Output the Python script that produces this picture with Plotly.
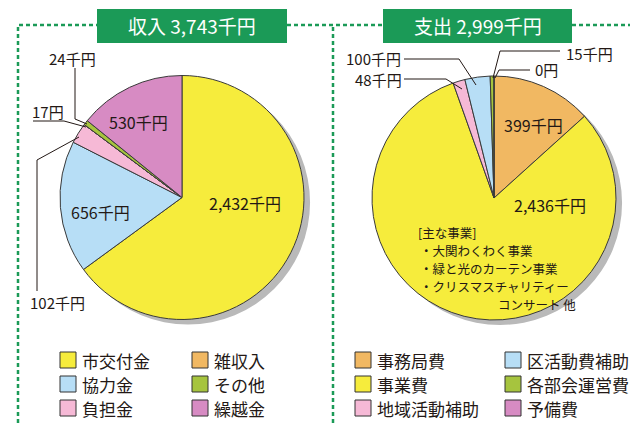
import plotly.graph_objects as go

W, H = 630, 425

# ---- data ----
inc_labels = ["市交付金", "協力金", "負担金", "雑収入", "その他", "繰越金"]
inc_values = [2432, 656, 102, 0.017, 24, 530]          # 千円 (雑収入 = 17円)
inc_text = ["2,432千円", "656千円", "102千円", "17円", "24千円", "530千円"]
inc_total = "収入 3,743千円"

exp_labels = ["事務局費", "事業費", "地域活動補助", "区活動費補助", "各部会運営費", "予備費"]
exp_values = [399, 2436, 48, 100, 15, 0]               # 千円
exp_text = ["399千円", "2,436千円", "48千円", "100千円", "15千円", "0円"]
exp_total = "支出 2,999千円"

colors = ["#f6ec3c", "#b7def6", "#f6b9d6", "#f1b862", "#a6c43e", "#d78bc3"]
exp_colors = ["#f1b862", "#f6ec3c", "#f6b9d6", "#b7def6", "#a6c43e", "#d78bc3"]

main_lines = ["[主な事業]", "・大関わくわく事業", "・緑と光のカーテン事業", "・クリスマスチャリティー"]
main_tail = "コンサート 他"

FONT = "Noto Sans CJK JP"
GREEN = "#1b9a57"
TXT = "#231815"


def px(x):
    return x / W


def py(y):
    return 1 - y / H


def dom(cx, cy, r):
    return dict(x=[px(cx - r), px(cx + r)], y=[py(cy + r), py(cy - r)])


R = 122
LC = (182, 197.5)
RC = (494, 198)

fig = go.Figure()

# shadows
for c in (LC, RC):
    fig.add_trace(go.Pie(values=[1], marker=dict(colors=["#b9b9b9"], line=dict(width=0)),
                         domain=dom(c[0] + 6, c[1] + 5, R), textinfo="none",
                         hoverinfo="skip", showlegend=False, sort=False))

fig.add_trace(go.Pie(labels=inc_labels, values=inc_values, sort=False, direction="clockwise",
                     rotation=0, marker=dict(colors=colors, line=dict(color="#3a3a3a", width=1)),
                     textinfo="none", domain=dom(LC[0], LC[1], R), showlegend=False))
fig.add_trace(go.Pie(labels=exp_labels, values=exp_values, sort=False, direction="clockwise",
                     rotation=0, marker=dict(colors=exp_colors, line=dict(color="#3a3a3a", width=1)),
                     textinfo="none", domain=dom(RC[0], RC[1], R), showlegend=False))

shapes = []
ann = []


def line(pts, color=TXT, width=1, dash=None):
    d = "M " + " L ".join(f"{px(x)},{py(y)}" for x, y in pts)
    ln = dict(color=color, width=width)
    if dash:
        ln["dash"] = dash
    shapes.append(dict(type="path", path=d, xref="paper", yref="paper", line=ln))


def text(x, y, s, size=15, color=TXT, xanchor="center", pad=1):
    ann.append(dict(x=px(x), y=py(y), xref="paper", yref="paper", text=s, showarrow=False,
                    xanchor=xanchor, yanchor="middle", borderpad=pad,
                    font=dict(family=FONT, size=size, color=color)))


# dashed frames
DASH = "4px,3px"
line([(18, 430), (18, 25), (97, 25)], GREEN, 2.5, DASH)
line([(287, 25), (383, 25)], GREEN, 2.5, DASH)
line([(333, 430), (333, 25)], GREEN, 2.5, DASH)
line([(572, 25), (632, 25)], GREEN, 2.5, DASH)

# title boxes
for (x0, x1, s) in [(97, 287, inc_total), (383, 572, exp_total)]:
    shapes.append(dict(type="rect", xref="paper", yref="paper", x0=px(x0), x1=px(x1),
                       y0=py(43), y1=py(9), fillcolor=GREEN, line=dict(width=0)))
    text((x0 + x1) / 2, 26, s, size=19, color="white")

# income labels
text(138, 122, inc_text[5], 16)
text(245, 203, inc_text[0], 16)
text(100, 212, inc_text[1], 16)
text(72, 59, inc_text[4], 15)
text(48, 111, inc_text[3], 15)
text(57, 302, inc_text[2], 15)
line([(75, 68), (75, 119), (87, 124)])
line([(33, 121), (64, 121), (86, 127)])
line([(37, 291), (37, 160), (79, 137)])

# expense labels
text(533, 125, exp_text[0], 16)
text(550, 205, exp_text[1], 16)
text(373, 59, exp_text[3], 15)
text(378, 79, exp_text[2], 15)
text(589, 53, exp_text[4], 15)
text(546, 70, exp_text[5], 15)
line([(404, 59), (459, 59), (476, 85)])
line([(404, 79), (446, 79), (462, 89)])
line([(560, 51), (500, 51), (493, 78)])
line([(530, 70), (499, 70), (495, 78)])

for i, s in enumerate(main_lines):
    text(417 if i == 0 else 419, 232 + i * 18, s, 12.5, xanchor="left", pad=0)
text(537, 304, main_tail, 12.5, pad=0)

# legends
def legend(x0, labs, cols):
    for k in range(6):
        col = k // 3
        row = k % 3
        x = x0[col]
        y = 360 + row * 24
        shapes.append(dict(type="rect", xref="paper", yref="paper", x0=px(x), x1=px(x + 16),
                           y0=py(y + 8), y1=py(y - 8), fillcolor=cols[k],
                           line=dict(color="#333333", width=1)))
        text(x + 20, y, labs[k], 17, xanchor="left")


legend([60, 192], inc_labels, colors)
legend([355, 505], exp_labels, exp_colors)

fig.update_layout(width=W, height=H, margin=dict(l=0, r=0, t=0, b=0),
                  paper_bgcolor="white", plot_bgcolor="white",
                  shapes=shapes, annotations=ann, showlegend=False,
                  font=dict(family=FONT))
fig.write_html("out.html", config={"displayModeBar": False},
               post_script="document.body.style.margin='0';document.body.style.overflow='hidden';")
